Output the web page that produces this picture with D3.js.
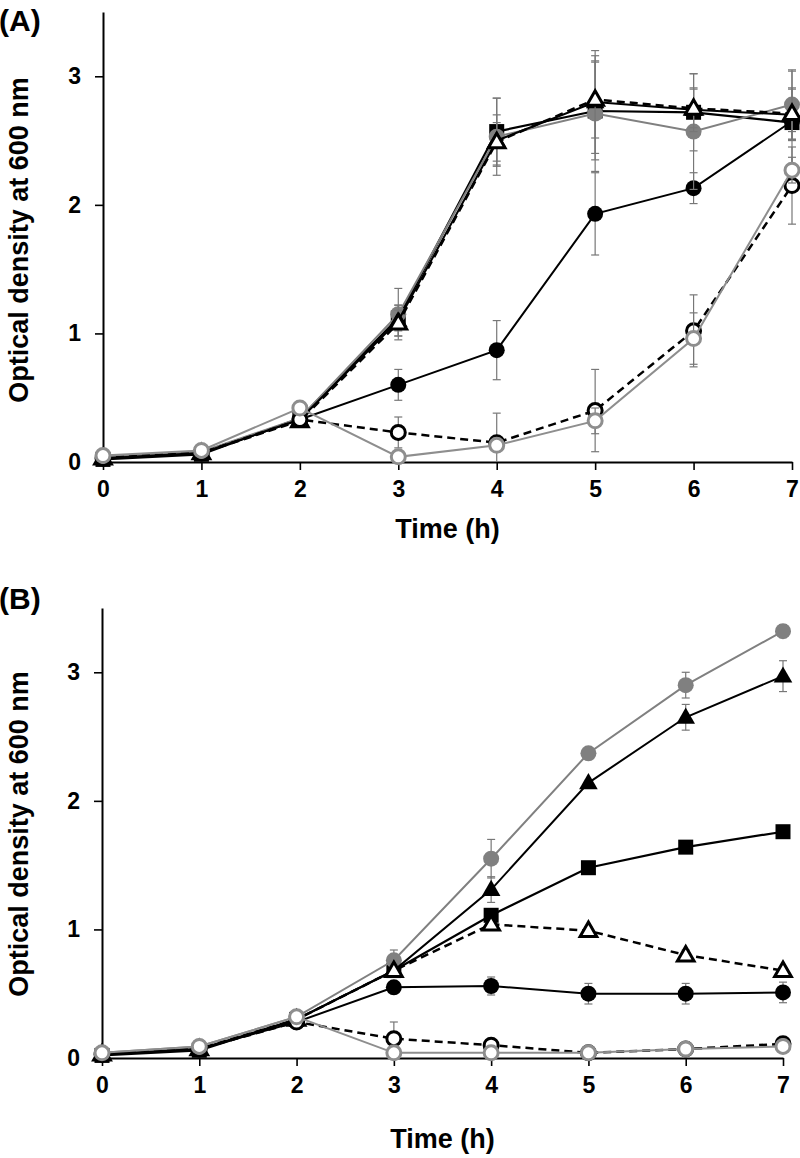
<!DOCTYPE html>
<html>
<head>
<meta charset="utf-8">
<script src="https://cdn.jsdelivr.net/npm/d3@7"></script>
<style>
  html, body { margin: 0; padding: 0; background: #fff; }
  svg { display: block; }
  text { font-family: "Liberation Sans", Arial, sans-serif; font-weight: bold; fill: #000; }
</style>
</head>
<body>
<svg id="chart" width="800" height="1158"></svg>
<script>
// ---------- data ----------
const hours = [0, 1, 2, 3, 4, 5, 6, 7];
const xTickLabels = ["0", "1", "2", "3", "4", "5", "6", "7"];
const yTicks = [0, 1, 2, 3];
const xTitle = "Time (h)";
const yTitle = "Optical density at 600 nm";
const panelLabels = ["(A)", "(B)"];

// Panel A
const A_filledCircle    = [0.03, 0.07, 0.33, 0.60, 0.87, 1.93, 2.13, 2.65];
const A_filledCircleErr = [0, 0, 0, 0.12, 0.23, 0.32, 0.12, 0.08];
const A_square          = [0.02, 0.06, 0.34, 1.12, 2.57, 2.73, 2.72, 2.64];
const A_squareErr       = [0, 0, 0.02, 0.10, 0.26, 0.38, 0.30, 0.40];
const A_grayCircle      = [0.04, 0.08, 0.34, 1.15, 2.53, 2.71, 2.57, 2.78];
const A_grayCircleErr   = [0, 0, 0.02, 0.20, 0.30, 0.45, 0.45, 0.27];
const A_filledTri       = [0.03, 0.07, 0.33, 1.10, 2.50, 2.80, 2.74, 2.70];
const A_filledTriErr    = [0, 0, 0, 0.12, 0.20, 0.40, 0.17, 0.20];
const A_openTri         = [0.03, 0.07, 0.32, 1.08, 2.49, 2.82, 2.75, 2.71];
const A_openTriErr      = [0, 0, 0, 0.10, 0.15, 0.30, 0.15, 0.20];
const A_openCircle      = [0.03, 0.07, 0.33, 0.23, 0.15, 0.40, 1.02, 2.15];
const A_openCircleErr   = [0, 0, 0, 0.12, 0.23, 0.32, 0.28, 0.30];
const A_openGray        = [0.05, 0.09, 0.42, 0.04, 0.13, 0.32, 0.96, 2.27];
const A_openGrayErr     = [0, 0, 0, 0.04, 0.05, 0.10, 0.20, 0.10];

// Panel B
const B_filledCircle    = [0.03, 0.07, 0.28, 0.55, 0.56, 0.50, 0.50, 0.51];
const B_filledCircleErr = [0, 0, 0.02, 0.03, 0.07, 0.08, 0.08, 0.08];
const B_square          = [0.02, 0.06, 0.30, 0.68, 1.11, 1.48, 1.64, 1.76];
const B_squareErr       = [0, 0, 0, 0.03, 0.03, 0.02, 0.03, 0.03];
const B_grayCircle      = [0.04, 0.09, 0.32, 0.76, 1.55, 2.37, 2.90, 3.32];
const B_grayCircleErr   = [0, 0, 0.02, 0.08, 0.15, 0.03, 0.10, 0.05];
const B_filledTri       = [0.03, 0.07, 0.30, 0.68, 1.31, 2.14, 2.65, 2.97];
const B_filledTriErr    = [0, 0, 0, 0.05, 0.10, 0.02, 0.10, 0.12];
const B_openTri         = [0.03, 0.07, 0.30, 0.68, 1.04, 0.99, 0.80, 0.68];
const B_openTriErr      = [0, 0, 0, 0.02, 0.03, 0.03, 0.04, 0.03];
const B_openCircle      = [0.03, 0.07, 0.28, 0.15, 0.10, 0.04, 0.07, 0.11];
const B_openCircleErr   = [0, 0, 0, 0.13, 0.03, 0.02, 0.02, 0.04];
const B_openGray        = [0.04, 0.09, 0.32, 0.04, 0.04, 0.04, 0.07, 0.09];
const B_openGrayErr     = [0, 0, 0, 0.01, 0.01, 0.01, 0.02, 0.02];

// ---------- styles ----------
const GRAY = "#808080";
const LGRAY = "#8e8e8e";
const styles = {
  filledCircle: { shape: "circle",   fill: "#000", stroke: "none", sw: 0,   line: "#000", lw: 2,   dash: null, size: Math.PI * 8 * 8 },
  square:       { shape: "square",   fill: "#000", stroke: "none", sw: 0,   line: "#000", lw: 2.2, dash: null, size: 15 * 15 },
  grayCircle:   { shape: "circle",   fill: GRAY,   stroke: "none", sw: 0,   line: GRAY,   lw: 2,   dash: null, size: Math.PI * 8 * 8 },
  filledTri:    { shape: "triangle", fill: "#000", stroke: "none", sw: 0,   line: "#000", lw: 2,   dash: null, size: 150 },
  openTri:      { shape: "triangle", fill: "#fff", stroke: "#000", sw: 3,   line: "#000", lw: 2.5, dash: "8,5", size: 120 },
  openCircle:   { shape: "circle",   fill: "#fff", stroke: "#000", sw: 3,   line: "#000", lw: 2.5, dash: "8,5", size: Math.PI * 7 * 7 },
  openGray:     { shape: "circle",   fill: "#fff", stroke: LGRAY,  sw: 3,   line: LGRAY,  lw: 2,   dash: null, size: Math.PI * 7 * 7 }
};
const order = ["filledCircle", "square", "grayCircle", "filledTri", "openTri", "openCircle", "openGray"];

const panelA = {
  label: panelLabels[0],
  series: {
    filledCircle: [A_filledCircle, A_filledCircleErr], square: [A_square, A_squareErr],
    grayCircle: [A_grayCircle, A_grayCircleErr], filledTri: [A_filledTri, A_filledTriErr],
    openTri: [A_openTri, A_openTriErr], openCircle: [A_openCircle, A_openCircleErr],
    openGray: [A_openGray, A_openGrayErr]
  },
  xr: [103, 792], yr: [462, 12], labelY: 31, xTitleY: 538, yTitleY: 240
};
const panelB = {
  label: panelLabels[1],
  series: {
    filledCircle: [B_filledCircle, B_filledCircleErr], square: [B_square, B_squareErr],
    grayCircle: [B_grayCircle, B_grayCircleErr], filledTri: [B_filledTri, B_filledTriErr],
    openTri: [B_openTri, B_openTriErr], openCircle: [B_openCircle, B_openCircleErr],
    openGray: [B_openGray, B_openGrayErr]
  },
  xr: [102, 783], yr: [1058, 608], labelY: 609, xTitleY: 1148, yTitleY: 834
};

const svg = d3.select("#chart");

function drawPanel(p) {
  const x = d3.scaleLinear().domain([0, 7]).range(p.xr);
  const y = d3.scaleLinear().domain([0, 3.5]).range(p.yr);
  const g = svg.append("g");

  // axes
  const xAxis = d3.axisBottom(x).tickValues(hours).tickFormat((d, i) => xTickLabels[i])
    .tickSize(8).tickSizeOuter(0).tickPadding(11);
  const yAxis = d3.axisLeft(y).tickValues(yTicks).tickFormat(d3.format("d"))
    .tickSize(8).tickSizeOuter(0).tickPadding(14);

  const gy = g.append("g").attr("transform", `translate(${p.xr[0]},0)`).call(yAxis);
  const gx = g.append("g").attr("transform", `translate(0,${p.yr[0]})`).call(xAxis);
  [gx, gy].forEach(a => {
    a.select(".domain").attr("stroke", "#000").attr("stroke-width", 2);
    a.selectAll(".tick line").attr("stroke", "#000").attr("stroke-width", 1.6);
    a.selectAll(".tick text").style("font-size", "23px").style("font-weight", "bold")
      .attr("font-family", null).attr("fill", "#000");
  });

  // series
  order.forEach(key => {
    const st = styles[key];
    const [vals, errs] = p.series[key];
    const pts = hours.map((h, i) => ({ h, v: vals[i], e: errs[i] }));
    const sg = g.append("g");

    // error bars
    const eb = sg.selectAll(".eb").data(pts.filter(d => d.e > 0)).join("g");
    eb.append("line").attr("x1", d => x(d.h)).attr("x2", d => x(d.h))
      .attr("y1", d => y(d.v + d.e)).attr("y2", d => y(Math.max(0, d.v - d.e)))
      .attr("stroke", "#777").attr("stroke-width", 1.2);
    eb.append("line").attr("x1", d => x(d.h) - 4).attr("x2", d => x(d.h) + 4)
      .attr("y1", d => y(d.v + d.e)).attr("y2", d => y(d.v + d.e))
      .attr("stroke", "#777").attr("stroke-width", 1.2);
    eb.filter(d => d.v - d.e > 0).append("line").attr("x1", d => x(d.h) - 4).attr("x2", d => x(d.h) + 4)
      .attr("y1", d => y(d.v - d.e)).attr("y2", d => y(d.v - d.e))
      .attr("stroke", "#777").attr("stroke-width", 1.2);

    // line
    sg.append("path").datum(pts)
      .attr("d", d3.line().x(d => x(d.h)).y(d => y(d.v)))
      .attr("fill", "none").attr("stroke", st.line).attr("stroke-width", st.lw)
      .attr("stroke-dasharray", st.dash);

    // markers
    const sym = st.shape === "circle" ? d3.symbolCircle : st.shape === "square" ? d3.symbolSquare : d3.symbolTriangle;
    sg.selectAll(".mk").data(pts).join("path")
      .attr("transform", d => `translate(${x(d.h)},${y(d.v) + (st.shape === "triangle" ? 1 : 0)})`)
      .attr("d", d3.symbol().type(sym).size(st.size))
      .attr("fill", st.fill).attr("stroke", st.stroke).attr("stroke-width", st.sw)
      .attr("stroke-linejoin", "miter");
  });

  // titles
  g.append("text").attr("x", (p.xr[0] + p.xr[1]) / 2).attr("y", p.xTitleY)
    .attr("text-anchor", "middle").style("font-size", "27px").text(xTitle);
  g.append("text").attr("transform", `translate(28,${p.yTitleY}) rotate(-90)`)
    .attr("text-anchor", "middle").style("font-size", "27px").text(yTitle);
  g.append("text").attr("x", -1).attr("y", p.labelY).style("font-size", "30px").text(p.label);
}

drawPanel(panelA);
drawPanel(panelB);
</script>
</body>
</html>
